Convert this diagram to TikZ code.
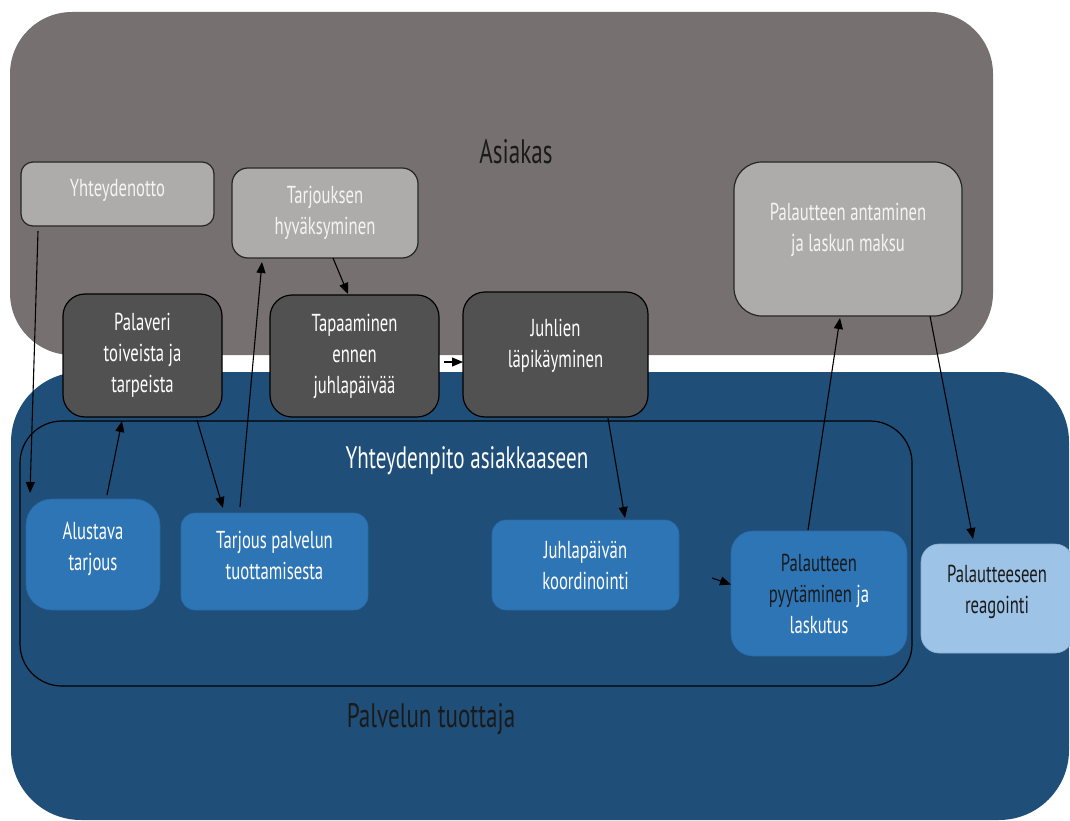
\documentclass[tikz,border=0pt]{standalone}
\usepackage{fontspec}
\setmainfont{PT Sans}[FakeStretch=0.68]
\usetikzlibrary{arrows.meta}
\definecolor{asbg}{HTML}{767170}
\definecolor{ptbg}{HTML}{1F4E79}
\definecolor{lgray}{HTML}{AEABAB}
\definecolor{dgray}{HTML}{515151}
\definecolor{mblue}{HTML}{2E75B6}
\definecolor{lblue}{HTML}{9DC3E6}
\definecolor{txtw}{HTML}{F4F4F4}
\definecolor{txtd}{HTML}{1A1A1A}
\tikzset{
  nbox/.style={align=center, inner sep=0pt, outer sep=0pt, font=\fontsize{24.5}{31}\selectfont},
  lgbox/.style={nbox, fill=lgray, draw=black!85, line width=1.2pt, text=txtw},
  dgbox/.style={nbox, fill=dgray, draw=black, line width=1.2pt, text=white},
  mbbox/.style={nbox, fill=mblue, draw=mblue!90!black, line width=0.6pt, text=white},
  lbbox/.style={nbox, fill=lblue, draw=lblue!90!black, line width=0.6pt, text=txtd},
  conn/.style={draw=black, line width=1.1pt, -{Triangle[length=11pt,width=9pt]}},
  biglabel/.style={font=\fontsize{34}{38}\selectfont, text=txtd, inner sep=0pt}
}
\begin{document}
\begin{tikzpicture}[x=1pt,y=-1pt]
\useasboundingbox (0,0) rectangle (1070,821);
% lanes
\path[fill=asbg, rounded corners=62pt] (10,12) rectangle (993,355);
\path[fill=ptbg, rounded corners=70pt] (11,372) rectangle (1069,820);
\draw[black, line width=1.2pt, rounded corners=42pt] (20,421) rectangle (912,686);
\node[biglabel] (asiakas) at (516,152) {Asiakas};
\node[biglabel] (tuottaja) at (431,719) {Palvelun tuottaja};
\node[biglabel, text=white, font=\fontsize{31}{34}\selectfont] (yhteys) at (467,461) {Yhteydenpito asiakkaaseen};
% customer nodes
\node[lgbox, rounded corners=12pt, minimum width=193pt, minimum height=64pt, text depth=12pt] (yht) at (117.5,194) {Yhteydenotto};
\node[lgbox, rounded corners=16pt, minimum width=186pt, minimum height=90pt] (tark) at (325,213) {Tarjouksen\\hyväksyminen};
\node[lgbox, rounded corners=28pt, minimum width=228pt, minimum height=154pt, text depth=24pt] (ant) at (848,239) {Palautteen antaminen\\ja laskun maksu};
\node[dgbox, rounded corners=22pt, minimum width=159pt, minimum height=123pt] (pal) at (142.5,355.5) {Palaveri\\toiveista ja\\tarpeista};
\node[dgbox, rounded corners=22pt, minimum width=169pt, minimum height=122pt] (tap) at (354.5,356) {Tapaaminen\\ennen\\juhlapäivää};
\node[dgbox, rounded corners=22pt, minimum width=185pt, minimum height=125pt, text depth=22pt] (juh) at (555.5,354.5) {Juhlien\\läpikäyminen};
% provider nodes
\node[mbbox, rounded corners=26pt, minimum width=134pt, minimum height=111pt, text depth=17pt] (alu) at (93,554.5) {Alustava\\tarjous};
\node[mbbox, rounded corners=14pt, minimum width=187pt, minimum height=97pt, text depth=13pt] (tar) at (274.5,561.5) {Tarjous palvelun\\tuottamisesta};
\node[mbbox, rounded corners=14pt, minimum width=187pt, minimum height=90pt] (koo) at (585.5,565) {Juhlapäivän\\koordinointi};
\node[mbbox, rounded corners=22pt, minimum width=176pt, minimum height=125pt, text=txtd] (pyy) at (819,593.5) {Palautteen\\pyytäminen \textcolor{white}{ja}\\\textcolor{white}{laskutus}};
\node[lbbox, rounded corners=18pt, minimum width=152pt, minimum height=109pt, text depth=19pt] (rea) at (997,598.5) {Palautteeseen\\reagointi};
% connectors
\draw[conn] ([xshift=17pt,yshift=-5pt]yht.south west) -- ([xshift=4pt,yshift=6pt]alu.north west);
\draw[conn] ([xshift=81pt,yshift=4pt]alu.north west) -- ([xshift=59pt,yshift=-4pt]pal.south west);
\draw[conn] ([xshift=134pt,yshift=-3pt]pal.south west) -- ([xshift=42pt,yshift=5pt]tar.north west);
\draw[conn] ([xshift=59pt,yshift=6pt]tar.north west) -- ([xshift=30pt,yshift=-4pt]tark.south west);
\draw[conn] ([xshift=101pt,yshift=0pt]tark.south west) -- ([xshift=78pt,yshift=1pt]tap.north west);
\draw[conn] ([xshift=5pt,yshift=-6pt]tap.east) -- ([xshift=0pt,yshift=-7.5pt]juh.west);
\draw[conn] ([xshift=145pt,yshift=-1pt]juh.south west) -- ([xshift=133pt,yshift=2pt]koo.north west);
\draw[conn] ([xshift=33pt,yshift=-13pt]koo.east) -- ([xshift=0pt,yshift=9pt]pyy.west);
\draw[conn] ([xshift=77pt,yshift=1pt]pyy.north west) -- ([xshift=106pt,yshift=-2pt]ant.south west);
\draw[conn] ([xshift=196pt,yshift=0pt]ant.south west) -- ([xshift=52pt,yshift=5pt]rea.north west);
\end{tikzpicture}
\end{document}
